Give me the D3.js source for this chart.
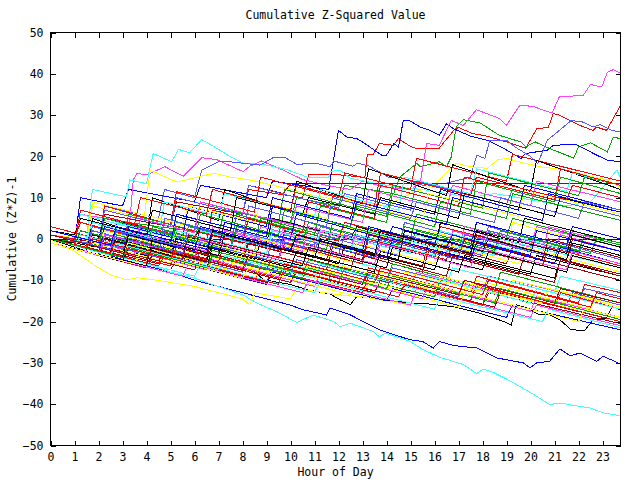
<!DOCTYPE html>
<html><head><meta charset="utf-8">
<script src="https://cdn.jsdelivr.net/npm/d3@7"></script>
<style>
html,body{margin:0;padding:0;background:#fff;}
svg{display:block;}
text{font-family:"DejaVu Sans Mono",monospace;font-size:11.5px;fill:#000;}
</style></head><body>
<svg id="chart" width="640" height="480"></svg>
<script>
const title = "Cumulative Z-Squared Value";
const xLabel = "Hour of Day";
const yLabel = "Cumulative (Z*Z)-1";
const xTicks = [0,1,2,3,4,5,6,7,8,9,10,11,12,13,14,15,16,17,18,19,20,21,22,23];
const yTicks = [-50,-40,-30,-20,-10,0,10,20,30,40,50];
const palette = ["#ff0000","#00a800","#0000ff","#ff40ff","#40ffff","#5858ff","#ffff00","#000000","#a80000"];

// each day: flat list hour,value,hour,value,...
const redHigh = [0,1, 2,-1, 2.25,6, 5,3, 5.25,9, 8,6, 8.25,12, 10.5,10, 10.75,15.5, 11.8,15.7, 12.9,15, 13.1,15, 13.2,20.5, 13.45,20.5, 13.7,23.1, 14.28,22.7, 14.5,24.3, 14.7,23.5, 15.1,22.1, 15.4,21.9, 16.2,22, 16.8,26.3, 17,27, 17.6,25.5, 18.2,24.9, 19,23.5, 19.8,22, 20.26,26.7, 20.74,27, 20.95,30.4, 21.2,30, 22.06,27.5, 22.6,26.3, 22.76,27.1, 23.17,26.3, 23.73,32.1];
const greenHigh = [0,0, 3,-2, 3.25,4, 7,1, 7.25,7, 10,4, 10.25,10, 12,8, 12.25,13, 14.3,11, 14.56,15, 15.26,18.3, 15.4,17.5, 16.2,18.7, 16.5,17.5, 16.7,19.9, 16.9,27.1, 17.2,28.9, 17.9,28.1, 18.7,25.1, 19.6,23.5, 19.8,22.3, 20.2,23.5, 20.8,21.9, 21.8,19.6, 22,22.3, 22.5,23.3, 23.2,21.1, 23.45,24.7, 23.73,24.3];
const blueHigh = [0,0, 1,-1, 1.25,10, 3,8, 3.25,12, 6,9, 6.25,13, 9,10, 9.25,14, 11.6,12, 11.65,14.3, 12,26.3, 12.34,24.7, 12.76,24.3, 13,23.5, 13.6,21.1, 13.8,20.3, 14,20.3, 14.3,23.1, 14.5,22.3, 14.7,28.7, 14.98,28.6, 15.4,27.1, 15.8,26.3, 16.2,25.1, 16.5,27.9, 16.8,26.7, 17.5,24.9, 18.2,23.9, 18.9,21.9, 19.6,19.5, 19.8,20.7, 20.7,21.5, 20.95,22.7, 21.9,22.9, 22.76,20.3, 23.2,19.1, 23.73,18.7];
const magentaHigh = [0,2, 1,1, 1.25,6, 3.3,4, 3.45,14.3, 3.6,15.9, 4,15.5, 4.77,17.5, 5.53,15.2, 6.3,19.7, 6.93,19.2, 8.03,16.3, 8.3,17.6, 8.8,18.9, 9.84,16.3, 10.5,14.4, 11.5,13, 12.5,12, 13,14, 14,12.5, 15,12, 15.4,13.5, 15.67,23.1, 16.2,22.7, 16.7,28.7, 17.2,27.5, 17.75,31.3, 18.7,29.2, 19,27.5, 19.56,32.4, 20.1,32.1, 20.9,30.5, 21.2,34.4, 22.2,34.8, 22.5,37.4, 22.97,36.8, 23.2,40.4, 23.45,41, 23.73,40.2];
const cyanHigh = [0,1, 1.5,0, 1.75,12, 3.17,10.2, 3.3,14.3, 4,13.4, 4.28,20.7, 5.05,18.7, 5.33,21.7, 5.8,20.9, 6.3,24.1, 7.06,21.5, 7.5,19.9, 8.03,18.4, 9,17.9, 9.84,16.8, 10.7,15, 11.6,15, 11.65,16.3, 12.06,16.7, 12.5,14.7, 13.5,13.5, 14.5,12.5, 15.5,12, 16.5,11, 17.5,10, 18.5,11, 19.5,10, 20.5,9, 21.5,8, 22.5,9, 22.8,11, 23.6,16.7, 23.73,15];
const periHigh = [0,1, 2,-1, 2.25,8, 4.5,5, 4.75,12, 6,10, 6.3,16.7, 7,18.7, 7.48,18.7, 8.73,17.9, 9.28,19.7, 9.77,19.7, 10.26,18.1, 11.1,18.3, 11.65,17.5, 11.8,18.9, 12.6,17.6, 12.8,18.4, 13.3,17.6, 14.1,14.9, 14.56,14.9, 15.5,13, 16.5,13.5, 17.5,15, 17.76,20.3, 18.1,19.5, 18.3,23.9, 19,23.9, 19.35,22.3, 20,20, 20.3,18.3, 20.7,23.9, 21.2,26.3, 21.7,28.7, 22.2,28.3, 22.6,27.1, 22.9,27.7, 23.4,26.3, 23.73,25.9];
const yellowHigh = [0,1, 1.5,0, 1.75,8, 3.9,5, 4.15,16.7, 5.26,13.8, 6.8,15.9, 7.5,15, 8.3,14.3, 9,13.4, 10,12, 11,10.5, 12,9.5, 13,9, 14,8, 15,11, 16,13, 16.6,16.7, 16.9,18.3, 17.5,17.5, 18.2,17.1, 18.6,19.1, 19,19.5, 19.8,18.3, 20.4,17.5, 21.5,16.7, 22.6,15, 23.2,14.3, 23.73,12.6];
const blackLow = [0,0, 1,-1, 2,-2, 3,-3, 4,-4, 5,-4.5, 6,-5, 7,-6, 7.76,-6.7, 8.5,-8, 8.9,-9.9, 10,-11, 10.7,-12.3, 11.65,-13.3, 12.06,-14.7, 12.5,-15.9, 12.76,-13.9, 13.9,-14.7, 14.98,-15.5, 15.4,-15.5, 16.8,-16.4, 17.9,-18, 18.9,-20, 19.2,-20.8, 19.4,-15.9, 19.84,-16.7, 20.4,-18.4, 20.8,-18.4, 21.23,-19.6, 21.7,-22, 22.27,-22.1, 22.6,-19.6, 23.17,-19.2, 23.4,-16.4, 23.73,-17.1];
const darkredFlat = [0,1, 2,-1, 2.25,6, 5,3, 5.25,9, 8,6, 8.25,13, 9.7,11, 10,13.4, 23.75,13.4];
const blueLow = [0,0, 1,-1.5, 2,-3, 3,-5, 4,-6.5, 5,-8, 6,-10, 7,-11.5, 8,-13, 9,-14.5, 10,-16, 10.5,-17.1, 11.5,-18.4, 11.65,-16.7, 12.5,-18.4, 13.7,-22, 14.98,-24.4, 15.5,-24.8, 15.95,-26.4, 16.2,-24.8, 16.8,-25.8, 17.76,-26.4, 18.6,-28.8, 19.7,-30, 19.98,-31.2, 20.26,-30, 20.8,-29.6, 21.23,-26.6, 21.65,-28.3, 22.06,-27.6, 22.76,-29.6, 23.03,-28.4, 23.73,-30.2];
const cyanLow = [0,0, 1,-1.5, 2,-3, 3,-4.5, 4,-6, 5,-8, 6,-9.5, 7,-11.5, 8,-13.5, 8.6,-15.5, 9.43,-17.6, 10.26,-20.2, 10.95,-18.4, 11.8,-20, 12.06,-21.2, 12.5,-20.4, 13.45,-22.4, 13.7,-23.7, 13.94,-22.8, 14.98,-24.8, 15.53,-26.8, 16.2,-28.6, 17.2,-30.4, 17.76,-32.6, 18.03,-31.5, 18.45,-32.3, 19,-33.9, 19.56,-35.7, 20.26,-38.1, 20.8,-40.1, 21.23,-39.7, 21.78,-40.3, 22.48,-40.9, 23.03,-42.1, 23.73,-42.8];
const yellowLow = [0,0, 1,-3, 2,-7, 2.5,-8.7, 3.2,-9.9, 3.6,-9.4, 4.1,-9.7, 5,-10.5, 6,-11.5, 7,-13, 8,-14.5, 8.3,-15.9, 8.5,-13, 10,-14.5, 10.25,-12, 12,-13.5, 13,-14, 14,-15, 15,-16, 15.25,-13, 17,-14.5, 17.25,-12, 19,-13.5, 20,-15, 21,-16, 22,-17, 23,-18, 23.75,-19];
const navyFlat = [0,0, 23.75,0];

// upper days
const u1 = [0,1, 2,-2, 2.25,8, 5,3.5, 5.25,11.5, 8.5,6.5, 8.75,15, 12,10, 12.25,16, 15,12, 15.25,19.5, 19,14, 19.25,20.5, 23.75,14];
const u2 = [0,0, 1.5,-3, 1.75,5, 4,0.5, 4.25,10, 7,4.5, 7.25,12, 10,6.5, 10.25,14, 13,8.5, 13.25,17, 16.5,10.5, 16.75,18, 20,11.5, 20.25,19, 23.75,12];
const u3 = [0,2, 3,-2.5, 3.25,6, 6,2, 6.25,9, 9.5,4, 9.75,12, 14,5.5, 14.25,13, 18,7.5, 18.25,16, 22,10.5, 22.25,15, 23.75,13];
const u4 = [0,1, 1,0, 1.25,6, 4.5,1, 4.75,9, 7,5.5, 7.25,11, 11,5.5, 11.25,12, 14.5,7, 14.75,15, 17.5,11, 17.75,17, 21.5,11.5, 21.75,16, 23.75,13];
const u5 = [0,0, 2.5,-3.5, 2.75,4, 5.5,0, 5.75,8, 9,3, 9.25,10, 12.5,5, 12.75,11, 16,6, 16.25,12, 19.5,7, 19.75,13, 23.75,7];
const u6 = [0,2, 2,-1, 2.25,7, 5,3, 5.25,10, 8,6, 8.25,13, 12,7.5, 12.25,11, 15,7, 15.25,14, 19,8.5, 19.25,12, 23.75,5.5];
const u7 = [0,3, 3,-1.5, 3.25,4, 6.5,-1, 6.75,7, 10.5,1.5, 10.75,9, 13.5,5, 13.75,13, 17,8, 17.25,15, 21,9.5, 21.25,17, 23.75,13];
const u8 = [0,1, 1.5,-1, 1.75,9, 5.5,3.5, 5.75,8, 8.5,4, 8.75,9, 11.5,5, 11.75,10, 15.5,4.5, 15.75,11, 19.5,5.5, 19.75,12, 23.75,6];
const u9 = [0,0, 4,-6, 4.25,3, 7.5,-2, 7.75,6, 11,1, 11.25,8, 14,4, 14.25,11, 17.5,6, 17.75,14, 21,9, 21.25,15, 23.75,11];
const u10 = [0,2, 1,1, 1.25,5, 4,1, 4.25,7, 7.5,2, 7.75,10, 10.5,6, 10.75,10, 13.5,6, 13.75,10, 17,5, 17.25,11, 21,5.5, 21.25,10, 23.75,6.5];
const u11 = [0,-1, 2,-4, 2.25,3, 5,-1, 5.25,6, 9,0.5, 9.25,8, 12.5,3, 12.75,9, 16.5,3.5, 16.75,10, 20.5,4.5, 20.75,11, 23.75,6.5];
const u12 = [0,1, 3.5,-4, 3.75,5, 6,1.5, 6.25,9, 10,3.5, 10.25,8, 13,4, 13.25,12, 16.5,7, 16.75,13, 20,8, 20.25,14, 23.75,9];
const u13 = [0,0, 1,-1.5, 1.25,7, 3.5,3.5, 3.75,10, 6.5,6, 6.75,12, 10,7, 10.25,13, 13.5,8, 13.75,16, 17.5,10.5, 17.75,15, 21.5,9.5, 21.75,13, 23.75,10];
const u14 = [0,2, 4.5,-4.5, 4.75,5, 8,0, 8.25,8, 11.5,3, 11.75,10, 15,5, 15.25,9, 18.5,4, 18.75,10, 22,5, 22.25,9, 23.75,7];
const u15 = [0,1, 2,-2, 2.25,5, 6,-0.5, 6.25,6, 9.5,1, 9.75,7, 12.5,3, 12.75,8, 16,3, 16.25,9, 19,5, 19.25,11, 23.75,4.5];
// middle days
const m1 = [0,1, 2,-2, 2.25,3, 5,-1, 5.25,4, 8.5,-1, 8.75,5, 12,0, 12.25,4, 15,0, 15.25,6, 19,0.5, 19.25,5, 23.75,-2];
const m2 = [0,0, 1.5,-2, 1.75,3, 4.5,-1, 4.75,2, 7,-1.5, 7.25,4, 11,-1.5, 11.25,3, 14.5,-2, 14.75,4, 18,-1, 18.25,3, 21.5,-2, 21.75,2, 23.75,-1];
const m3 = [0,2, 3,-2.5, 3.25,2, 6.5,-3, 6.75,3, 9.5,-1, 9.75,4, 13,-1, 13.25,2, 16,-2, 16.25,4, 20,-2, 20.25,3, 23.75,-2];
const m4 = [0,-1, 2.5,-4.5, 2.75,1, 5,-2.5, 5.75,3, 9,-2, 9.25,2, 12,-2, 12.25,3, 15.5,-2, 15.75,2, 19,-3, 19.25,4, 23.75,-3];
const m5 = [0,1, 1,0, 1.25,4, 5,-1.5, 5.25,3, 8,-1, 8.25,5, 12,-0.5, 12.25,4, 16,-1.5, 16.25,3, 20,-2.5, 20.25,2, 23.75,-3];
const m6 = [0,0, 3.5,-5, 3.75,1, 7,-4, 7.25,2, 10.5,-3, 10.75,3, 14,-2, 14.25,1, 17,-3, 17.25,3, 21,-2.5, 21.25,1, 23.75,-3];
const m7 = [0,3, 2,0, 2.25,5, 6,0, 6.25,3, 9,-1, 9.25,5, 12.5,0, 12.75,3, 16,-2, 16.25,4, 19.5,-1, 19.75,5, 23.75,-1];
const m8 = [0,1, 4,-5, 4.25,2, 7.5,-3, 7.75,3, 11.5,-2.5, 11.75,4, 15,-1, 15.25,2, 18.5,-3, 18.75,2, 22,-3, 22.25,1, 23.75,-1];
const m9 = [0,-1, 1.5,-3, 1.75,2, 5.5,-3.5, 5.75,1, 8.5,-3, 8.75,3, 12.5,-2.5, 12.75,2, 16.5,-3.5, 16.75,2, 20.5,-3.5, 20.75,3, 23.75,-1.5];
const m10 = [0,2, 2.5,-1.5, 2.75,4, 6,-1, 6.25,2, 9,-2, 9.25,3, 13,-2.5, 13.25,2, 17,-3.5, 17.25,1, 20,-3, 20.25,2, 23.75,-3];
const m11 = [0,0, 2,-3, 2.25,1, 6.5,-5, 6.75,1, 9.5,-3, 9.75,2, 13.5,-4, 13.75,2, 17.5,-4, 17.75,1, 21.5,-5, 21.75,0, 23.75,-3];
const m12 = [0,1, 3,-3.5, 3.25,3, 7,-2.5, 7.25,4, 10,0, 10.25,6, 14,0, 14.25,3, 17.5,-2, 17.75,4, 21.5,-1.5, 21.75,3, 23.75,0];
const m13 = [0,-1, 1,-2.5, 1.25,1, 4,-3, 4.25,2, 8,-3.5, 8.25,1, 11,-3, 11.25,2, 15,-3.5, 15.25,1, 18.5,-4, 18.75,0, 23.75,-7];
const m14 = [0,2, 3.5,-3, 3.75,3, 7.5,-2.5, 7.75,2, 11,-3, 11.25,1, 14.5,-4, 14.75,1, 18,-4, 18.25,2, 22,-3.5, 22.25,-1, 23.75,-3];
const m15 = [0,0, 2.5,-3.5, 2.75,0, 6,-5, 6.25,0, 9.5,-5, 9.75,-1, 13,-6, 13.25,0, 16.5,-5, 16.75,-1, 20.5,-6.5, 20.75,-2, 23.75,-6.5];
const m16 = [0,1, 1.5,-1, 1.75,2, 5.5,-3.5, 5.75,0, 9,-5, 9.25,0, 12,-4, 12.25,1, 16,-4.5, 16.25,-1, 19.5,-6, 19.75,-2, 23.75,-8];
const m17 = [0,0, 4.5,-6, 4.75,-1, 8,-6, 8.25,0, 11.5,-5, 11.75,-1, 15.5,-6.5, 15.75,-1, 19,-6, 19.25,-2, 23.75,-8.5];
const m18 = [0,2, 2,-1, 2.25,2, 5,-2, 5.25,1, 8.5,-4, 8.75,0, 12.5,-5.5, 12.75,-1, 16,-6, 16.25,-1, 19.5,-6, 19.75,-2, 23.75,-8];
const m19 = [0,-1, 3,-5.5, 3.25,-2, 6.5,-7, 6.75,-2, 10,-7, 10.25,-3, 13.5,-8, 13.75,-3, 17,-8, 17.25,-4, 21,-9.5, 21.25,-5, 23.75,-9];
const m20 = [0,1, 2.5,-2.5, 2.75,0, 6.5,-5.5, 6.75,-1, 10.5,-6.5, 10.75,-2, 14,-7, 14.25,-2, 18,-7.5, 18.25,-3, 21.5,-8, 21.75,-4, 23.75,-7];
const m21 = [0,0, 1,-1.5, 1.25,2, 4,-2, 4.25,3, 7.5,-2, 7.75,3, 10.5,-1, 10.75,4, 14.5,-1.5, 14.75,3, 18.5,-2.5, 18.75,2, 22.5,-3.5, 22.75,0, 23.75,-1.5];
const m22 = [0,1, 3,-3.5, 3.25,1, 6,-3, 6.25,3, 10,-2.5, 10.25,1, 13,-3, 13.25,3, 16.5,-2, 16.75,1, 20,-4, 20.25,2, 23.75,-3];
const m23 = [0,2, 1.5,0, 1.75,4, 5,-1, 5.25,2, 9,-3.5, 9.25,2, 12.5,-3, 12.75,1, 16,-4, 16.25,2, 19.5,-3, 19.75,0, 23.75,-6];
const m24 = [0,-1, 4,-6.5, 4.25,0, 7,-4, 7.25,1, 11,-4.5, 11.25,0, 14.5,-5, 14.75,2, 18,-3, 18.25,0, 21.5,-5, 21.75,-1, 23.75,-4];
const m25 = [0,0, 2,-3, 2.25,0, 5.5,-5, 5.75,1, 9.5,-4.5, 9.75,0, 13,-5, 13.25,1, 17,-4.5, 17.25,0, 20.5,-5, 20.75,0, 23.75,-4.5];
const m26 = [0,1, 3,-3.5, 3.25,0, 7,-5.5, 7.25,-1, 11.5,-7.5, 11.75,-2, 15.5,-8, 15.75,-3, 19.5,-8.5, 19.75,-4, 23.75,-10];
const m27 = [0,2, 2.5,-1.5, 2.75,3, 6.5,-2.5, 6.75,2, 10,-3, 10.25,1, 14,-4.5, 14.25,0, 17.5,-5, 17.75,-1, 21,-6, 21.25,-2, 23.75,-6];
const m28 = [0,0, 1.5,-2, 1.75,1, 5,-4, 5.25,0, 8.5,-5, 8.75,-1, 12,-6, 12.25,-2, 16,-7.5, 16.25,-3, 20,-8.5, 20.25,-4, 23.75,-9];
const m29 = [0,1, 4,-5, 4.25,0, 8,-5.5, 8.25,-1, 12.5,-7.5, 12.75,-3, 16.5,-9, 16.75,-4, 21,-10.5, 21.25,-5, 23.75,-9];
const m30 = [0,-1, 2,-4, 2.25,1, 6,-4.5, 6.25,0, 9.5,-5, 9.75,0, 13.5,-6, 13.75,-1, 17.5,-7, 17.75,-2, 21.5,-7.5, 21.75,-3, 23.75,-6];
const m31 = [0,1, 2.5,-2.5, 2.75,2, 5.5,-2, 5.75,3, 9.5,-2.5, 9.75,1, 13.5,-4.5, 13.75,0, 17,-5, 17.25,1, 21,-4.5, 21.25,-1, 23.75,-5];
const m32 = [0,0, 3,-4.5, 3.25,1, 6.5,-4, 6.75,2, 10,-3, 10.25,1, 13.5,-4, 13.75,2, 17.5,-3.5, 17.75,2, 21.5,-3.5, 21.75,1, 23.75,-2];
// lower days
const l1 = [0,0, 3,-4.5, 3.25,-2, 7,-7.5, 7.25,-4, 11,-9.5, 11.25,-6, 15,-11.5, 15.25,-8, 19,-13.5, 19.25,-10, 23.75,-16.5];
const l2 = [0,-1, 4,-7, 4.25,-4, 8.5,-10, 8.75,-7, 13,-13, 13.25,-9, 17.5,-15, 17.75,-11, 21,-16, 21.25,-13, 23.75,-17];
const l3 = [0,1, 2,-2, 2.25,0, 6,-5.5, 6.25,-3, 10,-8.5, 10.25,-5, 14,-10.5, 14.25,-7, 18,-12.5, 18.25,-9, 22,-14.5, 22.25,-12, 23.75,-14];
const l4 = [0,0, 5,-7.5, 5.25,-5, 9,-10.5, 9.25,-7, 13.5,-13, 13.75,-10, 18,-16, 18.25,-13, 23.75,-20.5];
const l5 = [0,-1, 2.5,-4.5, 2.75,-2, 7,-8, 7.25,-5, 11.5,-11, 11.75,-8, 16,-14, 16.25,-10, 20,-15.5, 20.25,-12, 23.75,-17];
const l6 = [0,1, 3.5,-4, 3.75,-1, 7.5,-6.5, 7.75,-3, 12,-9, 12.25,-5, 16.5,-11, 16.75,-7, 21,-13, 21.25,-9, 23.75,-12.5];
const l7 = [0,0, 4,-6, 4.25,-4, 9,-11, 9.25,-8, 14,-15, 14.25,-12, 19,-19, 19.25,-16, 23.75,-22];
const l8 = [0,-1, 1.5,-3, 1.75,-1, 5.5,-6.5, 5.75,-3, 10,-9, 10.25,-6, 14.5,-12, 14.75,-8, 19,-14, 19.25,-10, 23.75,-16];
const l9 = [0,0, 3,-4.5, 3.25,-1, 8,-8, 8.25,-5, 12,-10.5, 12.25,-7, 17,-14, 17.25,-10, 21.5,-16, 21.75,-13, 23.75,-16];
const l10 = [0,1, 5,-6.5, 5.25,-3, 9.5,-9.5, 9.75,-6, 13,-11, 13.25,-7, 17.5,-13.5, 17.75,-9, 22,-15.5, 22.25,-11, 23.75,-13];
const l11 = [0,0, 2,-3, 2.25,-1, 6.5,-7.5, 6.75,-5, 11,-11.5, 11.25,-8, 15.5,-14.5, 15.75,-11, 20,-17.5, 20.25,-14, 23.75,-19];
const l12 = [0,-1, 3.5,-6, 3.75,-3, 8.5,-10, 8.75,-6, 13,-12.5, 13.75,-8, 17.5,-13.5, 17.75,-10, 22.5,-17, 22.75,-14, 23.75,-15.5];
const l13 = [0,2, 2.5,-1.5, 2.75,1, 6,-4, 6.25,-2, 10.5,-8.5, 10.75,-5, 14,-10, 14.25,-6, 18.5,-12.5, 18.75,-8, 23.75,-15.5];
const l14 = [0,0, 6,-9, 6.25,-6, 11,-13, 11.25,-10, 16,-17, 16.25,-14, 20.5,-20, 20.75,-17, 23.75,-21.5];
const l15 = [0,0, 2,-3, 2.25,-2, 6,-7.5, 6.25,-5, 10,-10.5, 10.25,-8, 14.5,-14, 14.75,-11, 18.5,-16.5, 18.75,-13, 23.75,-20];
const l16 = [0,-1, 5.5,-9, 5.75,-6, 10.5,-13, 10.75,-10, 15,-16, 15.25,-12, 20,-19, 20.25,-16, 23.75,-21];
const l17 = [0,1, 3,-3.5, 3.25,-1, 7.5,-7.5, 7.75,-4, 11.5,-9.5, 11.75,-6, 16,-12.5, 16.25,-9, 20.5,-15.5, 20.75,-12, 23.75,-16.5];
const l18 = [0,0, 4.5,-6.5, 4.75,-4, 9.5,-11, 9.75,-7, 14.5,-14, 14.75,-11, 18,-16, 18.25,-12, 23.75,-20];
const l19 = [0,0, 2.5,-4, 2.75,-1, 7,-7.5, 7.25,-4, 11,-9.5, 11.25,-6, 15.5,-12.5, 15.75,-9, 20,-15.5, 20.25,-12, 23.75,-17];
const l20 = [0,-1, 3.5,-6, 3.75,-3, 8,-9.5, 8.25,-7, 12.5,-13.5, 12.75,-10, 17,-16.5, 17.25,-13, 22,-20, 22.25,-17, 23.75,-19];
const l21 = [0,1, 4,-5, 4.25,-2, 8,-7.5, 8.25,-4, 13,-11, 13.25,-8, 17,-13.5, 17.25,-10, 21,-15.5, 21.25,-12, 23.75,-15.5];
const l22 = [0,0, 1.5,-2, 1.75,0, 5,-5, 5.25,-2, 9,-7.5, 9.25,-4, 13.5,-10.5, 13.75,-7, 18,-13.5, 18.25,-10, 22.5,-16.5, 22.75,-13, 23.75,-14.5];
const l23 = [0,0, 3,-4.5, 3.25,-2, 6.5,-7, 6.75,-4, 10.5,-9.5, 10.75,-7, 14,-12, 14.25,-9, 18.5,-15.5, 18.75,-12, 23.75,-19.5];

// plotting order; colour follows the cycle red, green, blue, magenta, cyan, light blue, yellow, black, dark red
const days = [
 redHigh, greenHigh, blueHigh, magentaHigh, cyanHigh, periHigh, yellowHigh, blackLow, darkredFlat,
 u1, m1, blueLow, l1, cyanLow, m2, yellowLow, u2, m26,
 l2, u3, navyFlat, m3, u4, l3, m4, m28, l4,
 m5, l5, u5, m6, l6, u6, l8, m7, m17,
 u7, m8, l7, m9, m10, l9, u8, m19, m11,
 l10, u9, m12, l11, m13, m14, l12, u10, m29,
 m15, l13, u11, u12, l14, m16, m18, m20, l15,
 u13, m21, m22, l16, m23, u14, l17, m24, m25,
 l18, u15, m27, m30, l19, m31, l20, m32, l21,
 l22, l23
];
const lines = days.map(flat => d3.range(0, flat.length, 2).map(k => [flat[k], flat[k+1]]));

const svg = d3.select("#chart");
const x = d3.scaleLinear().domain([0, 23.75]).range([50.5, 620.5]);
const y = d3.scaleLinear().domain([-50, 50]).range([445.5, 32.5]);
const color = d3.scaleOrdinal().domain(d3.range(palette.length)).range(palette);

svg.append("defs").append("clipPath").attr("id","clip")
  .append("rect").attr("x",50).attr("y",32).attr("width",571).attr("height",414);

const line = d3.line().x(d=>x(d[0])).y(d=>y(d[1]));
svg.append("g").attr("clip-path","url(#clip)")
  .selectAll("path").data(lines).join("path")
  .attr("d", line)
  .attr("fill","none")
  .attr("stroke",(d,i)=>color(i % palette.length))
  .attr("stroke-width",1)
  .attr("shape-rendering","crispEdges");

function styleAxis(g){
  g.select(".domain").remove();
  g.selectAll(".tick line").attr("stroke","#000").attr("shape-rendering","crispEdges");
  g.selectAll("text").attr("font-family","DejaVu Sans Mono, monospace").attr("font-size","11.5px").attr("fill","#000");
}
svg.append("g").attr("transform",`translate(0,${y(-50)})`)
  .call(d3.axisBottom(x).tickValues(xTicks).tickSize(-5).tickPadding(7).tickFormat(d3.format("d"))).call(styleAxis);
svg.append("g").attr("transform",`translate(0,${y(50)})`)
  .call(d3.axisTop(x).tickValues(xTicks).tickSize(-5).tickFormat("")).call(styleAxis);
svg.append("g").attr("transform",`translate(${x(0)},0)`)
  .call(d3.axisLeft(y).tickValues(yTicks).tickSize(-5).tickPadding(7).tickFormat(d3.format("d"))).call(styleAxis);
svg.append("g").attr("transform",`translate(${x(23.75)},0)`)
  .call(d3.axisRight(y).tickValues(yTicks).tickSize(-5).tickFormat("")).call(styleAxis);

svg.append("rect").attr("x",50.5).attr("y",32.5).attr("width",570).attr("height",413)
  .attr("fill","none").attr("stroke","#000").attr("shape-rendering","crispEdges");

svg.append("text").attr("x",335.5).attr("y",19).attr("text-anchor","middle").text(title);
svg.append("text").attr("x",335.5).attr("y",476).attr("text-anchor","middle").text(xLabel);
svg.append("text").attr("transform","translate(16,239) rotate(-90)").attr("text-anchor","middle").text(yLabel);
</script>
</body></html>
